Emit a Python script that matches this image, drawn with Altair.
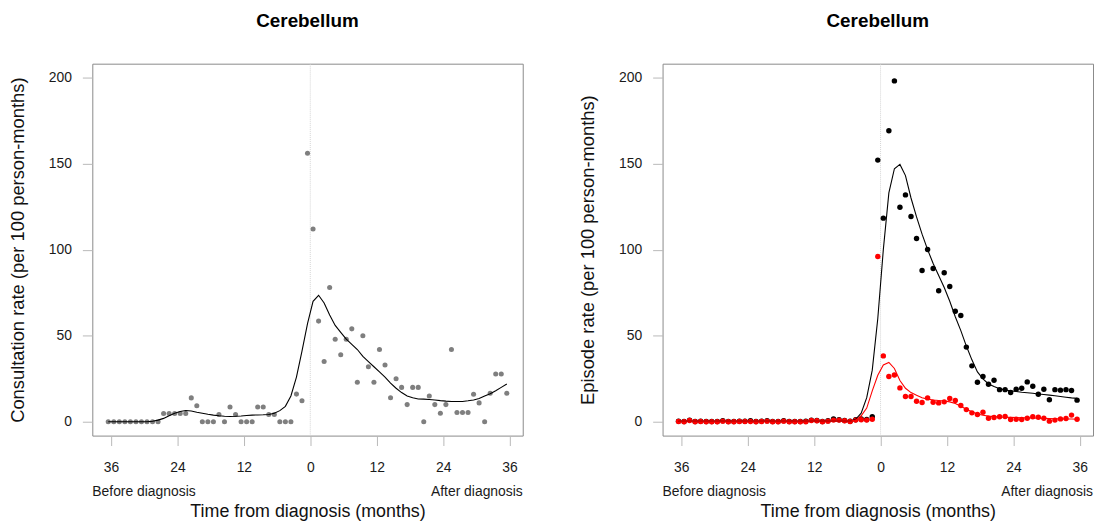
import altair as alt
import pandas as pd

# ---------------- data ----------------
months = [k + 0.5 for k in range(-37, 36)]  # -36.5 ... 35.5 (monthly midpoints)

consult = [
    0, 0, 0, 0, 0, 0, 0, 0, 0, 0,
    4.8, 4.8, 4.8, 4.8, 4.8, 13.9, 9.3, 0, 0, 0,
    4.3, 0, 8.6, 4.3, 0, 0, 0, 8.6, 8.6, 4.3,
    4.3, 0, 0, 0, 16.1, 12.2, 156,
    112, 58.5, 35, 78, 48, 39, 48, 54, 23, 50,
    32, 23, 42, 33, 14, 25, 20, 10, 20, 20,
    0, 15, 10, 5, 10, 42, 5.4, 5.4, 5.4, 16,
    11, 0, 16.6, 27.8, 27.8, 16.6,
]
consult_smooth = [
    0, 0, 0, 0, 0, 0, 0, 0, 0.3, 1,
    2, 3.5, 5, 6, 6.6, 6.3, 5.6, 5, 4.4, 3.9,
    3.5, 3.2, 3.1, 3.2, 3.4, 3.7, 3.9, 4, 4.1, 4.3,
    5, 6.5, 9, 15, 26, 41, 57,
    70, 73.5, 69, 62, 56, 52, 48, 45, 42, 38,
    35, 32, 29, 26, 22.5, 19.5, 17, 15, 14, 13.3,
    13.2, 13, 12.7, 12.3, 12, 11.8, 11.8, 11.8, 12.2, 12.7,
    13.5, 15, 16.3, 18, 20, 22,
]
episode_all = [
    0.4, 0.2, 1, 0.2, 0.4, 0.2, 0.2, 0.2, 0.6, 0.2,
    0.2, 0.4, 0.4, 0.6, 0.2, 0.4, 0.6, 0.2, 0.2, 0.6,
    0.2, 0.2, 0.2, 0.4, 1, 0.8, 0.2, 0.6, 1.6, 1.2,
    0.8, 0.4, 1.2, 1.6, 1.4, 3, 152,
    118.3, 169, 198, 124.6, 131.8, 119.2, 106.5, 87.9, 100.1, 89,
    76.1, 86.6, 78.6, 64.2, 61.8, 43.4, 32.5, 23, 26.3, 21.8,
    24.2, 18.7, 18.7, 17, 18.9, 19.5, 23.2, 20.7, 16, 18.9,
    12.8, 18.7, 18.4, 18.7, 18.2, 12.6,
]
episode_red = [
    0.2, 0, 0.8, 0, 0.2, 0, 0, 0, 0.4, 0,
    0, 0.2, 0.2, 0.2, 0, 0.2, 0.4, 0, 0, 0.4,
    0, 0, 0, 0, 0.8, 0.6, 0, 0.4, 1, 1,
    0.6, 0.2, 1, 1.2, 1, 1.5, 96,
    38.3, 26.3, 27.2, 19.7, 14.7, 14.7, 12, 11.2, 13.9, 11.4,
    11, 11.6, 13.5, 12.4, 9.5, 7.1, 5.2, 4.3, 5.6, 2.1,
    2.5, 2.9, 3.1, 1.4, 1.5, 1.4, 2.1, 2.9, 2.7, 2.1,
    0.4, 1, 1.7, 1.9, 3.9, 1.5,
]
episode_all_smooth = [
    0.3, 0.3, 0.3, 0.3, 0.3, 0.3, 0.3, 0.3, 0.3, 0.3,
    0.3, 0.3, 0.3, 0.3, 0.3, 0.3, 0.3, 0.3, 0.3, 0.3,
    0.3, 0.3, 0.3, 0.3, 0.3, 0.3, 0.3, 0.3, 0.3, 0.3,
    0.3, 0.4, 1.5, 5, 14, 30, 60,
    100, 133, 147, 149.5, 143, 130, 119, 109, 100, 92,
    85, 78, 70, 61, 53, 44, 36, 29, 25, 22,
    20.5, 19.2, 18.5, 18, 17.6, 17.2, 16.9, 16.6, 16.2, 15.9,
    15.5, 15.1, 14.7, 14.3, 13.9, 13.6,
]
episode_red_smooth = [
    0.3, 0.3, 0.3, 0.3, 0.3, 0.3, 0.3, 0.3, 0.3, 0.3,
    0.3, 0.3, 0.3, 0.3, 0.3, 0.3, 0.3, 0.3, 0.3, 0.3,
    0.3, 0.3, 0.3, 0.3, 0.3, 0.3, 0.3, 0.3, 0.3, 0.3,
    0.3, 0.4, 1, 3.5, 8, 18, 27,
    33, 34.5, 31, 24, 19.5, 17, 15.5, 14, 13.2, 12.7,
    12.4, 12.1, 11.6, 10.6, 9, 7.3, 5.8, 4.6, 3.8, 3.3,
    3, 2.8, 2.7, 2.6, 2.5, 2.4, 2.3, 2.2, 2.1, 2,
    1.9, 1.8, 1.7, 1.6, 1.6, 1.5,
]

x_ticks = [-36, -24, -12, 0, 12, 24, 36]
y_ticks = [0, 50, 100, 150, 200]
panel_title = "Cerebellum"
x_title = "Time from diagnosis (months)"
left_y_title = "Consultation rate (per 100 person-months)"
right_y_title = "Episode rate (per 100 person-months)"
before_label = "Before diagnosis"
after_label = "After diagnosis"

# ---------------- styling ----------------
FONT = "Liberation Sans"
W, H = 434, 375
XDOM = [-39.38, 38.38]
YDOM = [-8, 208]

left_df = pd.DataFrame({"m": months, "rate": consult, "smooth": consult_smooth})
right_df = pd.DataFrame({
    "m": months,
    "all": episode_all,
    "red": episode_red,
    "all_s": episode_all_smooth,
    "red_s": episode_red_smooth,
})


def x_enc():
    return alt.X(
        "m:Q",
        scale=alt.Scale(domain=XDOM, nice=False, zero=False),
        axis=alt.Axis(
            values=x_ticks, labelExpr="abs(datum.value)", title=x_title,
            grid=False, domain=False, tickSize=10, tickColor="#b8b8b8",
            labelPadding=15, labelFontSize=14, labelFont=FONT, labelColor="#1a1a1a",
            labelFlush=False, labelOverlap=False,
            titleFont=FONT, titleFontSize=18, titleFontWeight="normal",
            titleColor="#111111", titlePadding=29,
        ),
    )


def y_enc(field, title):
    return alt.Y(
        field,
        scale=alt.Scale(domain=YDOM, nice=False, zero=False),
        axis=alt.Axis(
            values=y_ticks, title=title, grid=False, domain=False,
            tickSize=10, tickColor="#b8b8b8", labelPadding=11,
            labelFontSize=14, labelFont=FONT, labelColor="#1a1a1a",
            labelFlush=False,
            titleFont=FONT, titleFontSize=18.5, titleFontWeight="normal",
            titleColor="#111111", titlePadding=21,
        ),
    )


def title_params():
    return alt.TitleParams(
        panel_title, font=FONT, fontSize=19, fontWeight="bold", color="black",
        anchor="middle", frame="group", offset=32,
    )


def vline():
    return alt.Chart(pd.DataFrame({"m": [0]})).mark_rule(
        color="#d4d4d4", strokeDash=[1, 1], strokeWidth=1
    ).encode(x=alt.X("m:Q", scale=alt.Scale(domain=XDOM, nice=False, zero=False)))


def side_labels():
    before = alt.Chart(pd.DataFrame({"t": [before_label]})).mark_text(
        align="left", baseline="middle", font=FONT, fontSize=14, color="#1a1a1a"
    ).encode(text="t:N", x=alt.value(0), y=alt.value(H + 57))
    after = alt.Chart(pd.DataFrame({"t": [after_label]})).mark_text(
        align="right", baseline="middle", font=FONT, fontSize=14, color="#1a1a1a"
    ).encode(text="t:N", x=alt.value(W), y=alt.value(H + 57))
    return before, after


# ---------------- left panel ----------------
lb = alt.Chart(left_df)
l_points = lb.mark_circle(size=26, color="#7f7f7f", opacity=1).encode(
    x=x_enc(), y=y_enc("rate:Q", left_y_title)
)
l_line = lb.mark_line(color="black", strokeWidth=1.1).encode(
    x=x_enc(), y=y_enc("smooth:Q", left_y_title)
)
b1, a1 = side_labels()
left = alt.layer(vline(), l_points, l_line, b1, a1).properties(
    width=W, height=H, title=title_params()
)

# ---------------- right panel ----------------
rb = alt.Chart(right_df)
r_all_pts = rb.mark_circle(size=30, color="black", opacity=1).encode(
    x=x_enc(), y=y_enc("all:Q", right_y_title)
)
r_red_pts = rb.mark_circle(size=30, color="#ff0000", opacity=1).encode(
    x=x_enc(), y=y_enc("red:Q", right_y_title)
)
r_all_line = rb.mark_line(color="black", strokeWidth=1.1).encode(
    x=x_enc(), y=y_enc("all_s:Q", right_y_title)
)
r_red_line = rb.mark_line(color="#ff0000", strokeWidth=1.1).encode(
    x=x_enc(), y=y_enc("red_s:Q", right_y_title)
)
b2, a2 = side_labels()
right = alt.layer(vline(), r_all_pts, r_red_pts, r_all_line, r_red_line, b2, a2).properties(
    width=W, height=H, title=title_params()
)

chart = alt.hconcat(left, right, spacing=55).properties(
    padding={"left": 0, "top": 2, "right": 0, "bottom": 2}
).configure_view(stroke="#8a8a8a", strokeWidth=1)

chart.save("out.html", embed_options={"renderer": "svg", "actions": False})
